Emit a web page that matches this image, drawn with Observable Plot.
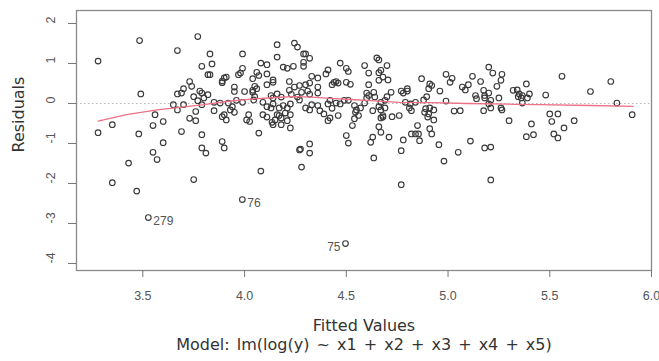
<!DOCTYPE html>
<html>
<head>
<meta charset="utf-8">
<script src="https://cdn.jsdelivr.net/npm/d3@7"></script>
<script src="https://cdn.jsdelivr.net/npm/@observablehq/plot@0.6"></script>
<style>
  html, body { margin: 0; padding: 0; background: #fff; }
  #chart svg { display: block; }
</style>
</head>
<body>
<div id="chart"></div>
<script>
// Fitted values and residuals
const points = [
  [3.28,1.06],[3.484,1.575],[3.67,1.325],[3.77,1.675],[3.83,1.24],[3.79,0.93],[3.84,0.99],[3.82,0.72],[3.83,0.72],[3.89,0.52],[3.90,0.64],[3.49,0.24],[3.73,0.55],[3.74,0.43],[3.70,0.37],[3.67,0.24],[3.69,0.26],[3.78,0.31],[3.79,0.26],[3.82,0.22],[3.75,0.17],[3.77,0.07],[3.80,0.14],[3.79,-0.03],[3.65,-0.03],[3.70,-0.03],[3.67,-0.16],[3.85,0.03],[3.88,0.01],[3.76,-0.2],[3.85,-0.18],[3.89,-0.33],[3.56,-0.28],[3.73,-0.37],[3.76,-0.43],[3.60,-0.45],[3.55,-0.55],[3.35,-0.53],[3.28,-0.73],[3.48,-0.76],[3.69,-0.70],[3.79,-0.78],[3.60,-0.98],[3.89,-0.95],[3.90,-1.11],[3.79,-1.11],[3.81,-1.24],[3.55,-1.22],[3.57,-1.40],[3.43,-1.49],[3.75,-1.90],[3.35,-1.98],[3.47,-2.19],[3.527,-2.85],[3.989,-2.4],[4.496,-3.5],
  [4.16,1.47],[4.245,1.51],[4.26,1.41],[3.99,1.24],[4.16,1.16],[4.29,1.24],[4.30,1.24],[4.32,1.13],[4.29,1.03],[4.29,0.93],[4.08,1.01],[4.11,0.97],[3.99,0.88],[3.98,0.76],[3.97,0.72],[4.19,0.91],[4.21,0.88],[4.24,0.93],[4.06,0.78],[4.07,0.70],[4.11,0.74],[3.91,0.66],[3.89,0.56],[4.14,0.59],[4.14,0.53],[4.22,0.55],[4.04,0.62],[4.05,0.43],[4.04,0.33],[4.06,0.37],[3.95,0.41],[3.95,0.30],[4.00,0.30],[4.11,0.47],[4.33,0.68],[4.36,0.64],[4.40,0.74],[4.41,0.84],[4.27,0.45],[4.30,0.47],[4.32,0.51],[4.36,0.41],[4.44,0.53],[4.45,0.55],[4.46,0.51],[4.43,0.47],[4.47,1.01],[4.50,0.88],[4.51,0.80],[4.59,0.95],[4.61,0.76],[4.50,0.53],[4.52,0.48],[4.22,0.33],[4.23,0.23],[4.26,0.16],[4.27,0.09],[4.245,0.41],[4.28,0.28],[4.31,0.31],[4.32,0.23],[4.36,0.26],[4.13,0.20],[4.14,0.14],[4.16,0.24],[4.18,0.16],[4.09,0.03],[4.11,-0.08],[4.13,-0.11],[4.14,-0.01],[4.17,-0.11],[4.19,-0.05],[4.21,-0.11],[4.225,-0.01],[4.17,-0.30],[4.18,-0.36],[4.20,-0.24],[4.225,-0.28],[4.30,-0.11],[4.32,-0.16],[4.33,-0.03],[4.36,-0.05],[4.37,-0.18],[4.41,-0.01],[4.42,0.08],[4.45,0.01],[4.47,-0.01],[4.49,0.08],[4.51,0.08],[4.54,-0.05],[4.55,-0.16],[4.57,-0.11],[4.59,0.01],[4.60,0.14],[4.545,-0.22],[4.56,-0.30],[4.54,-0.38],[4.41,-0.43],[4.42,-0.36],[4.46,-0.30],[4.53,-0.55],[4.50,-0.80],[4.51,-0.99],[4.32,-1.01],[4.32,-1.24],[4.27,-1.16],[4.275,-1.14],[4.28,-1.59],[4.08,-1.69],[4.07,-0.74],[4.02,-0.28],[4.025,-0.45],[4.01,-0.41],[3.90,-0.28],[3.91,-0.41],[3.96,0.08],[3.94,-0.08],[3.92,0.01],[3.93,-0.16],[3.99,0.03],[3.95,-0.22],[4.045,0.09],[4.05,0.17],[4.04,0.28],[4.09,-0.28],[4.11,-0.34],[4.135,-0.47],[4.14,-0.53],[4.16,-0.28],[4.15,-0.41],[4.18,-0.53],[4.21,-0.43],[4.225,-0.61],[4.39,-0.26],[4.43,-0.12],
  [4.65,1.14],[4.66,1.09],[4.70,0.95],[4.67,0.83],[4.66,0.77],[4.68,0.66],[4.66,0.58],[4.705,0.59],[4.61,0.47],[4.60,0.26],[4.61,0.2],[4.635,0.28],[4.64,0.16],[4.72,0.28],[4.70,0.17],[4.69,0.08],[4.67,0.03],[4.66,-0.08],[4.67,-0.16],[4.68,-0.30],[4.67,-0.36],[4.68,-0.34],[4.69,-0.11],[4.63,-0.18],[4.725,-0.33],[4.76,-0.30],[4.66,-0.58],[4.67,-0.72],[4.63,-0.84],[4.62,-0.97],[4.71,-0.84],[4.635,-1.36],[4.77,0.31],[4.78,0.26],[4.80,0.37],[4.80,0.31],[4.79,0.03],[4.815,-0.01],[4.84,0.03],[4.81,-0.11],[4.82,-0.18],[4.87,0.62],[4.91,0.49],[4.905,0.37],[4.92,0.45],[4.895,0.17],[4.88,0.09],[4.89,-0.13],[4.91,-0.11],[4.93,-0.16],[4.96,0.31],[4.99,0.06],[4.99,0.73],[5.01,0.53],[5.02,0.63],[4.885,-0.22],[4.90,-0.34],[4.93,-0.41],[4.905,-0.26],[4.85,-0.55],[4.82,-0.76],[4.84,-0.76],[4.855,-0.76],[4.86,-0.93],[4.91,-0.63],[4.92,-0.76],[4.78,-0.91],[4.77,-1.18],[4.955,-1.03],[4.98,-1.44],[4.77,-2.03],[5.03,-0.19],[5.06,-0.18],[5.07,0.41],[5.085,0.34],[5.10,0.47],[5.12,0.68],[5.16,0.55],[5.135,0.2],[5.05,-1.22],[5.11,-0.94],[5.175,0.33],[5.18,0.2],[5.20,0.26],[5.18,0.14],[5.14,0.12],[5.21,0.08],[5.25,0.14],[5.26,-0.11],[5.265,-0.16],[5.21,-0.11],[5.175,-0.18],[5.20,-0.01],[5.20,0.91],[5.22,0.76],[5.265,0.73],[5.26,0.58],[5.24,0.43],[5.30,-0.43],[5.18,-1.11],[5.21,-1.09],[5.21,-1.91],[5.32,0.33],
  [5.34,0.34],[5.35,0.24],[5.345,0.17],[5.36,0.14],[5.365,0.2],[5.385,0.49],[5.40,0.24],[5.39,0.14],[5.365,0.01],[5.48,0.21],[5.56,0.68],[5.41,-0.51],[5.385,-0.83],[5.42,-0.78],[5.50,-0.26],[5.54,-0.26],[5.51,-0.45],[5.52,-0.76],[5.54,-0.86],[5.57,-0.61],[5.62,-0.43],[5.70,0.30],[5.80,0.55],[5.83,0.01],[5.905,-0.28]
];
const fitted = points.map(p => p[0]);
const residuals = points.map(p => p[1]);

// Lowess smoother
const smoothX = [3.28, 3.42, 3.57, 3.66, 3.80, 3.91, 4.03, 4.15, 4.24, 4.33, 4.42, 4.52, 4.62, 4.76, 4.92, 5.09, 5.33, 5.45, 5.70, 5.91];
const smoothY = [-0.44, -0.28, -0.16, -0.11, -0.03, 0.05, 0.11, 0.15, 0.17, 0.16, 0.13, 0.10, 0.07, 0.03, 0.02, 0.0, -0.02, -0.03, -0.05, -0.07];

// Labelled outliers
const outlierLabels = ["279", "76", "75"];
const outlierX = [3.527, 3.989, 4.496];
const outlierY = [-2.85, -2.4, -3.5];
const outlierSide = ["right", "right", "left"];

// Ticks
const xTicks = [3.5, 4.0, 4.5, 5.0, 5.5, 6.0];
const yTicks = [2, 1, 0, -1, -2, -3, -4];

const xTitle = "Fitted Values";
const caption = "Model: lm(log(y) ~ x1 + x2 + x3 + x4 + x5)";
const yTitle = "Residuals";

const data = fitted.map((f, i) => ({fitted: f, residual: residuals[i]}));
const smooth = smoothX.map((x, i) => ({x, y: smoothY[i]}));
const outliers = outlierLabels.map((t, i) => ({label: t, x: outlierX[i], y: outlierY[i], side: outlierSide[i]}));

const titleFont = "'DejaVu Sans', sans-serif";

const chart = Plot.plot({
  width: 659,
  height: 361,
  marginLeft: 76,
  marginRight: 8,
  marginTop: 10,
  marginBottom: 91,
  style: {fontFamily: "'Liberation Sans', Arial, sans-serif", fontSize: "12.5px", color: "#555", background: "#fff"},
  x: {domain: [3.174, 6.0]},
  y: {domain: [-4.175, 2.325]},
  marks: [
    Plot.ruleY([0], {stroke: "#bbb", strokeDasharray: "1.5,2.5", strokeWidth: 1}),
    Plot.dot(data, {x: "fitted", y: "residual", r: 2.8, stroke: "#3a3a3a", strokeWidth: 1.15, fill: "none"}),
    Plot.line(smooth, {x: "x", y: "y", stroke: "#ee6f86", strokeWidth: 1.3}),
    Plot.text(outliers.filter(d => d.side === "right"), {x: "x", y: "y", text: "label", textAnchor: "start", dx: 5, dy: 4, fill: "#555", fontSize: 12}),
    Plot.text(outliers.filter(d => d.side === "left"), {x: "x", y: "y", text: "label", textAnchor: "end", dx: -5, dy: 4, fill: "#555", fontSize: 12}),
    Plot.frame({stroke: "#8a8a8a", strokeWidth: 1.3}),
    Plot.axisX({ticks: xTicks, tickSize: 7, tickPadding: 14, tickFormat: d => d.toFixed(1), label: null, stroke: "#777", fill: "#555"}),
    Plot.axisY({ticks: yTicks, tickSize: 8, tickFormat: () => "", label: null, stroke: "#777"}),
    Plot.text(yTicks, {y: d => d, text: d => String(d), frameAnchor: "left", dx: -26, rotate: -90, fill: "#555", fontSize: 12.5}),
    Plot.text([yTitle], {frameAnchor: "left", dx: -58, dy: 12, rotate: -90, fill: "#333", fontSize: 16, fontFamily: titleFont}),
    Plot.text([xTitle], {frameAnchor: "bottom", dy: 60, fill: "#333", fontSize: 16, fontFamily: titleFont}),
    Plot.text([caption], {frameAnchor: "bottom", dy: 79, fill: "#333", fontSize: 16, fontFamily: titleFont})
  ]
});
// slightly wider word spacing on the model caption, as in the reference
d3.select(chart).selectAll("text").filter(function() { return this.textContent === caption; })
  .style("word-spacing", "2px");
document.getElementById("chart").appendChild(chart);
</script>
</body>
</html>
